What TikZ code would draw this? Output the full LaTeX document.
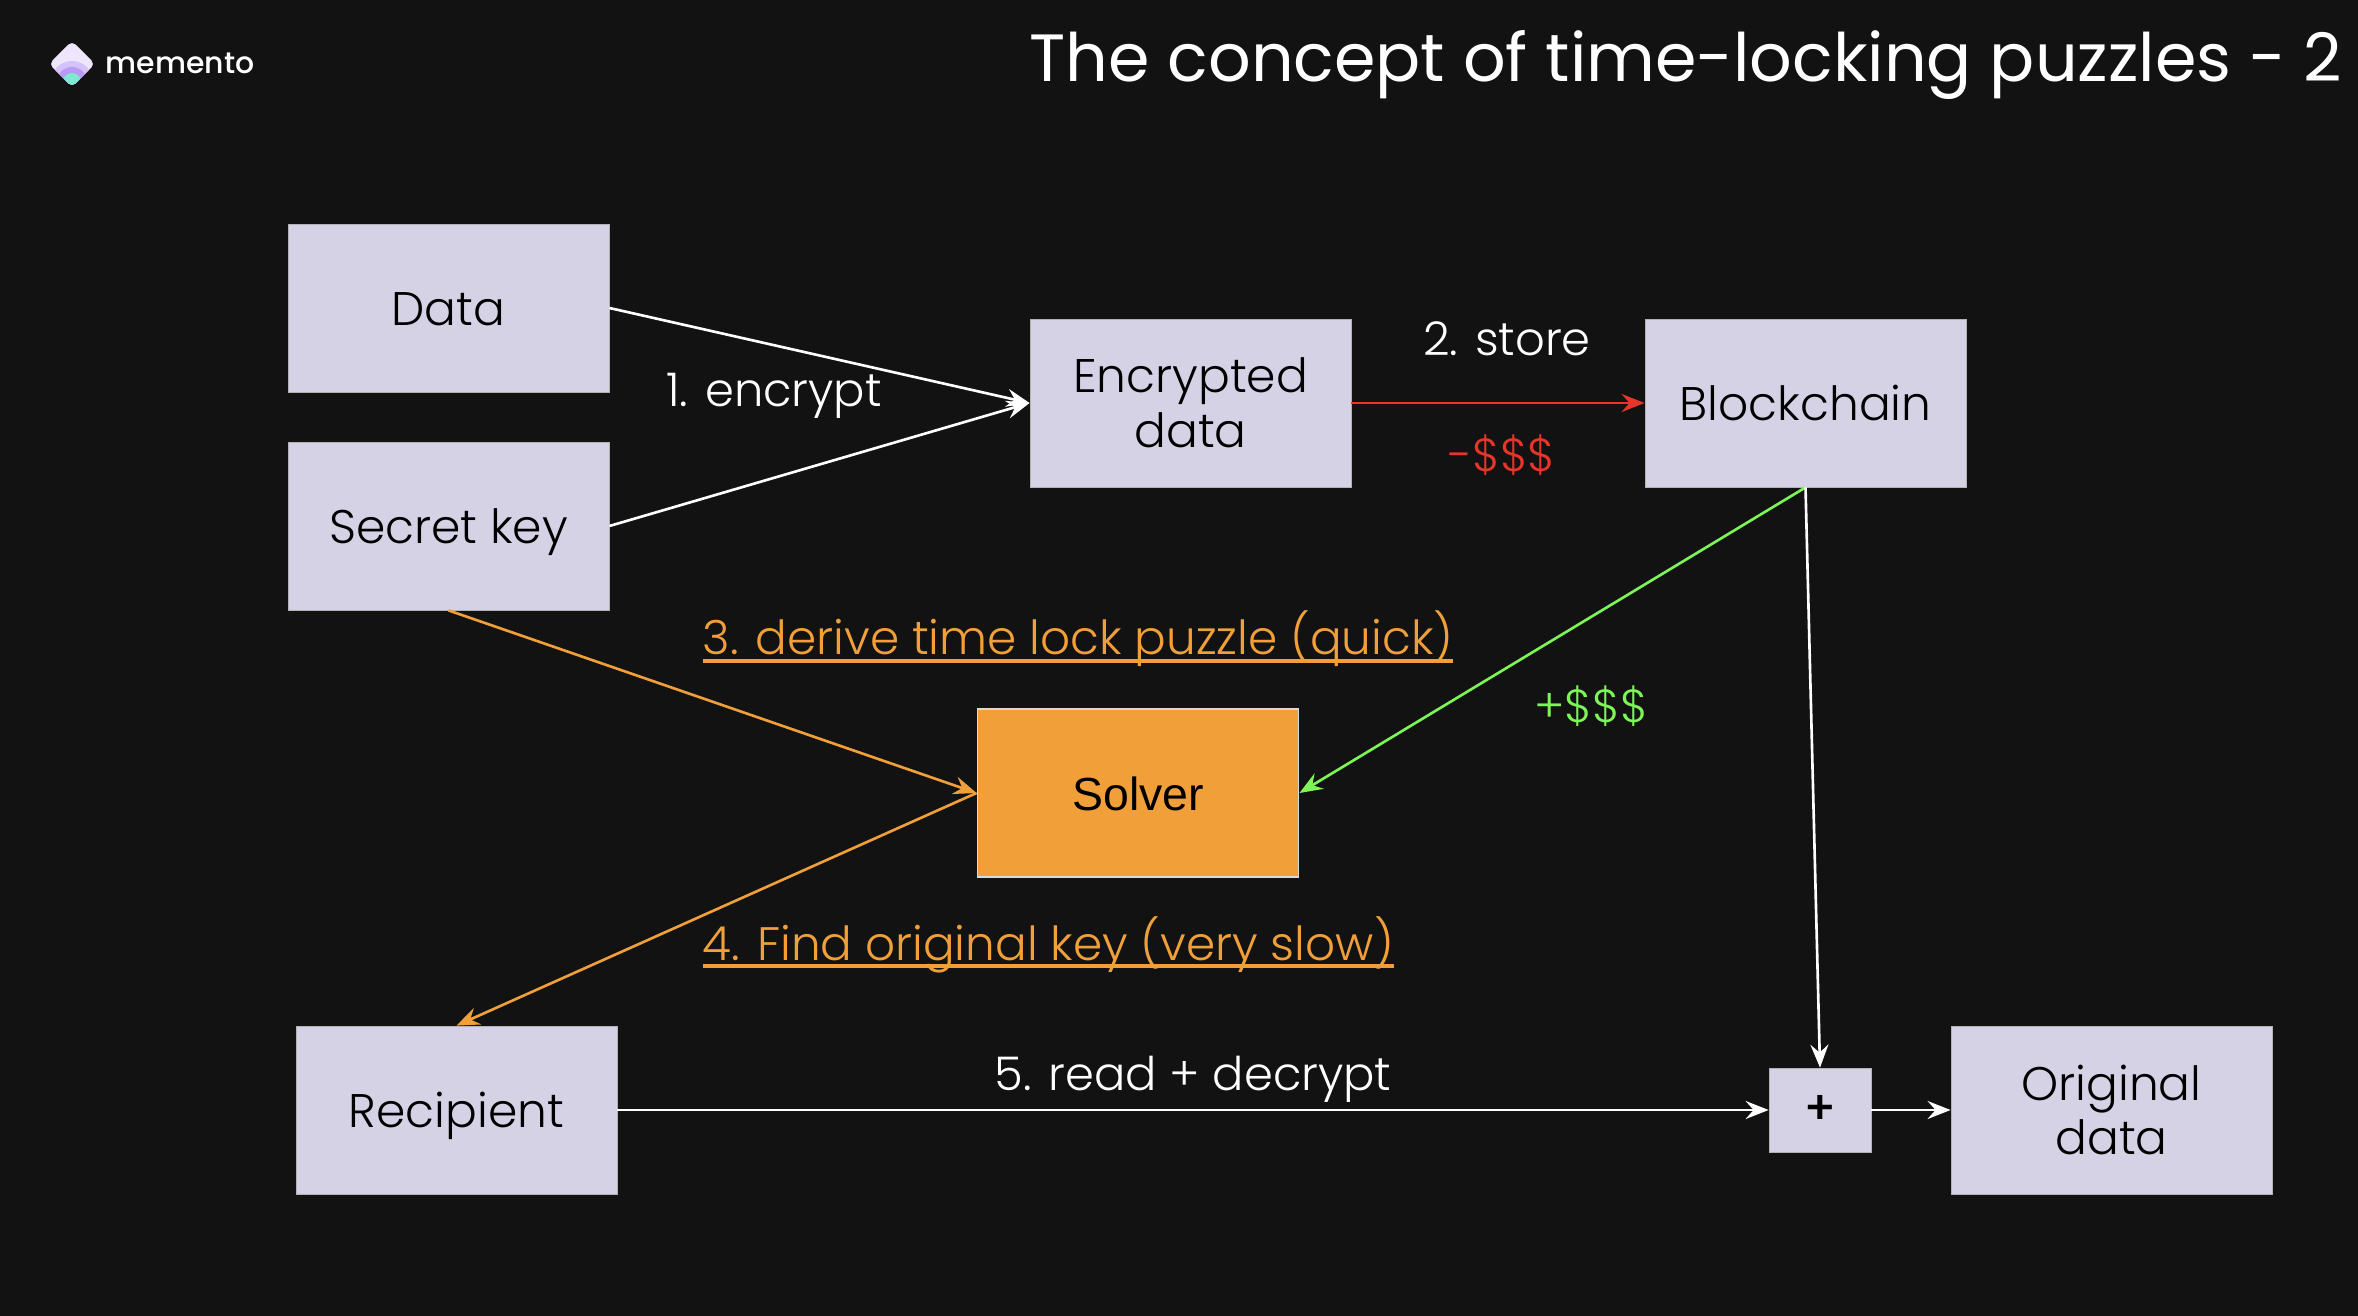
\documentclass[tikz,border=0pt]{standalone}
\usepackage{fontspec}
\setmainfont{Poppins Light}
\newfontfamily\brandfont{Poppins Medium}
\newfontfamily\titlefont{Poppins}
\newfontfamily\solverfont{Liberation Sans}
\usetikzlibrary{arrows.meta}
\definecolor{slidebg}{HTML}{121212}
\definecolor{boxfill}{HTML}{D6D2E6}
\definecolor{solverfill}{HTML}{F1A039}
\definecolor{stepred}{HTML}{E8352B}
\definecolor{stepgreen}{HTML}{7DF556}
\definecolor{logolight}{HTML}{EDE6FC}
\definecolor{logomid}{HTML}{D5C2FA}
\definecolor{logodark}{HTML}{B99AF5}
\definecolor{logomint}{HTML}{7EE8D2}
\newcommand\stepline[1]{\setbox0\hbox{#1}\rlap{\rule[-.08cm]{\wd0}{.04cm}}\box0}
\tikzset{
  box/.style = {draw = gray!60, line width = .2pt, fill = boxfill, text = black,
                minimum width = 3.21cm, minimum height = 1.68cm, inner sep = 0pt,
                align = center, font = \fontsize{13.4}{15.5}\selectfont},
  oneline/.style = {text height = 10.2pt, text depth = 0pt},
  link/.style = {white, line width = .75pt,
                 -{Stealth[length = .23cm, width = .18cm, inset = .08cm]}},
  caption/.style = {white, inner sep = 0pt, anchor = base, font = \fontsize{13.2}{16}\selectfont},
  steplabel/.style = {solverfill, inner sep = 0pt, anchor = base west, font = \fontsize{13.35}{16}\selectfont}
}
\begin{document}
\begin{tikzpicture}[x = .01cm, y = -.01cm]
  \fill [slidebg] (0,0) rectangle (2358,1316);
  \useasboundingbox (0,0) rectangle (2358,1316);

  % logo
  \begin{scope}
    \clip [rounded corners = .05cm] (72,41) -- (95,64) -- (72,87) -- (49,64) -- cycle;
    \fill [logolight] (49,41) rectangle (95,87);
    \fill [logomid] (72,82) circle (21);
    \fill [logodark] (72,82) circle (15);
    \fill [logomint] (72,82) circle (9);
  \end{scope}
  \node [white, inner sep = 0pt, anchor = base, font = \brandfont\fontsize{8.5}{11}\selectfont] (brand)
    at (180,74) {memento};
  \node [white, inner sep = 0pt, anchor = base east, font = \titlefont\fontsize{19}{24}\selectfont] (title)
    at (2343,82) {The concept of time-locking puzzles - 2};

  \node [box, oneline] (data) at (448.5,308) {Data};
  \node [box, oneline] (secret) at (448.5,526) {Secret key};
  \node [box] (encrypted) at (1190.5,403) {Encrypted\\data};
  \node [box, oneline] (chain) at (1805.5,403) {Blockchain};
  \node [box, oneline, fill = solverfill, draw = white!85!black, line width = .5pt,
         font = \solverfont\fontsize{13.2}{15}\selectfont] (solver) at (1138,793) {Solver};
  \node [box, oneline] (recipient) at (456.5,1110) {Recipient};
  \node [box, minimum width = 1.02cm, minimum height = .84cm,
         font = \brandfont\fontsize{13.4}{15.5}\selectfont] (plus) at (1820,1110) {+};
  \node [box] (original) at (2111.5,1110) {Original\\data};

  \draw [link] (data.east) -- (encrypted.west);
  \draw [link] (secret.east) -- (encrypted.west);
  \draw [link, stepred] (encrypted.east) -- (chain.west);
  \draw [link, solverfill] (secret.south) -- (solver.west);
  \draw [link, stepgreen] (chain.south) -- (solver.east);
  \draw [link, solverfill] (solver.west) -- (recipient.north);
  \draw [link] (chain.south) -- (plus.north);
  \draw [link] (recipient.east) -- (plus.west);
  \draw [link] (plus.east) -- (original.west);

  \node [caption] (encrypt) at (774,407) {1. encrypt};
  \node [caption] (store) at (1507,356) {2. store};
  \node [caption, stepred] (cost) at (1502,472) {-\$\$\$};
  \node [steplabel] (derive) at (702,655) {\stepline{3. derive time lock puzzle (quick)}};
  \node [caption, stepgreen] (reward) at (1591,722) {+\$\$\$};
  \node [steplabel] (find) at (702,960) {\stepline{4. Find original key (very slow)}};
  \node [caption] (read) at (1193,1090) {5. read + decrypt};
\end{tikzpicture}
\end{document}
